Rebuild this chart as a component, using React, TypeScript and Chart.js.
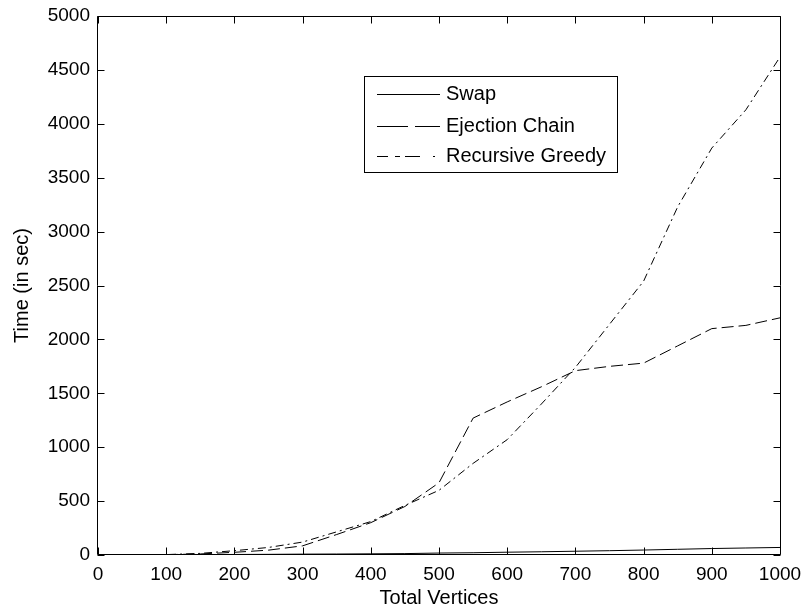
import { useEffect, useRef } from "react";
import { Chart, registerables } from "chart.js";

Chart.register(...registerables);

// ---- data ----
const vertices = [50, 100, 150, 200, 250, 300, 350, 400, 450, 500, 550, 600, 650, 700, 750, 800, 850, 900, 950, 1000];
const swapTimes = [1, 2, 3, 5, 6, 8, 9, 11, 13, 18, 21, 26, 30, 35, 40, 46, 53, 60, 65, 70];
const ejectionTimes = [1, 3, 10, 25, 45, 85, 190, 300, 450, 670, 1270, 1420, 1560, 1710, 1750, 1780, 1940, 2100, 2130, 2200];
const greedyTimes = [1, 4, 15, 40, 70, 120, 215, 310, 460, 600, 850, 1070, 1400, 1740, 2140, 2540, 3230, 3775, 4130, 4620];
const seriesNames = ["Swap", "Ejection Chain", "Recursive Greedy"];
const xTickValues = [0, 100, 200, 300, 400, 500, 600, 700, 800, 900, 1000];
const yTickValues = [0, 500, 1000, 1500, 2000, 2500, 3000, 3500, 4000, 4500, 5000];
const xTitle = "Total Vertices";
const yTitle = "Time (in sec)";

const FONT = "'Liberation Sans', Arial, Helvetica, sans-serif";
const INK = "#000000";

const plotDashes = [[], [12, 5], [8, 4, 2, 4]];
const legendDashes = [[], [31, 7], [11, 7, 5, 5, 15, 13, 2, 30]];

const framePlugin = {
  id: "matlabFrame",
  afterDatasetsDraw(chart: any) {
    const { ctx, chartArea, scales } = chart;
    const { left, right, top, bottom } = chartArea;
    const L = Math.round(left) - 0.5;
    const R = Math.round(right) + 0.5;
    const T = Math.round(top) + 0.5;
    const B = Math.round(bottom) - 0.5;
    const tl = 7;
    ctx.save();
    ctx.strokeStyle = INK;
    ctx.lineWidth = 1;
    ctx.setLineDash([]);
    ctx.beginPath();
    ctx.rect(L, T, R - L, B - T);
    for (const t of scales.x.ticks) {
      const px = Math.round(scales.x.getPixelForValue(t.value)) + 0.5;
      ctx.moveTo(px, B);
      ctx.lineTo(px, B - tl);
      ctx.moveTo(px, T);
      ctx.lineTo(px, T + tl);
    }
    for (const t of scales.y.ticks) {
      const py = Math.round(scales.y.getPixelForValue(t.value)) + 0.5;
      ctx.moveTo(L, py);
      ctx.lineTo(L + tl, py);
      ctx.moveTo(R, py);
      ctx.lineTo(R - tl, py);
    }
    ctx.stroke();
    ctx.restore();
  },
  afterDraw(chart: any) {
    const { ctx } = chart;
    const bx = 364.5, by = 76.5, bw = 253, bh = 96;
    ctx.save();
    ctx.fillStyle = "#ffffff";
    ctx.fillRect(bx, by, bw, bh);
    ctx.strokeStyle = INK;
    ctx.lineWidth = 1;
    ctx.setLineDash([]);
    ctx.strokeRect(bx, by, bw, bh);
    const rows = [94.5, 126.5, 156.5];
    chart.data.datasets.forEach((ds: any, i: number) => {
      const y = rows[i];
      ctx.beginPath();
      ctx.setLineDash(legendDashes[i]);
      ctx.strokeStyle = ds.borderColor;
      ctx.moveTo(377, y);
      ctx.lineTo(440, y);
      ctx.stroke();
      ctx.setLineDash([]);
      ctx.fillStyle = INK;
      ctx.font = `20px ${FONT}`;
      ctx.textBaseline = "middle";
      ctx.textAlign = "left";
      ctx.fillText(ds.label, 446, y);
    });
    ctx.restore();
  },
};

const noPad = (s: any) => {
  s.paddingLeft = 0;
  s.paddingRight = 0;
  s.paddingTop = 0;
  s.paddingBottom = 0;
};

export default function App() {
  const canvasRef = useRef<HTMLCanvasElement | null>(null);

  useEffect(() => {
    const canvas = canvasRef.current;
    if (!canvas) return;
    const seriesValues = [swapTimes, ejectionTimes, greedyTimes];
    const chart = new Chart(canvas, {
      type: "line",
      data: {
        datasets: seriesValues.map((vals, i) => ({
          label: seriesNames[i],
          data: vertices.map((v, k) => ({ x: v, y: vals[k] })),
          borderColor: INK,
          backgroundColor: INK,
          borderWidth: 1,
          borderDash: plotDashes[i],
          pointRadius: 0,
          tension: 0,
          fill: false,
        })),
      },
      options: {
        animation: false,
        responsive: false,
        devicePixelRatio: 1,
        layout: { padding: { left: 0, top: 16, right: 25, bottom: 0 } },
        plugins: {
          legend: { display: false },
          tooltip: { enabled: false },
        },
        scales: {
          x: {
            type: "linear",
            min: 0,
            max: 1000,
            afterBuildTicks: (s: any) => {
              s.ticks = xTickValues.map((v) => ({ value: v }));
            },
            afterFit: (s: any) => {
              s.height = 58;
              noPad(s);
            },
            grid: { display: false, drawTicks: false },
            border: { display: false },
            ticks: {
              color: INK,
              font: { family: FONT, size: 19 },
              padding: 8,
              maxRotation: 0,
              autoSkip: false,
              callback: (v: any) => String(v),
            },
            title: {
              display: true,
              text: xTitle,
              color: INK,
              font: { family: FONT, size: 20 },
              padding: { top: 0, bottom: 3 },
            },
          },
          y: {
            type: "linear",
            min: 0,
            max: 5000,
            afterBuildTicks: (s: any) => {
              s.ticks = yTickValues.map((v) => ({ value: v }));
            },
            afterFit: (s: any) => {
              s.width = 98;
              noPad(s);
            },
            grid: { display: false, drawTicks: false },
            border: { display: false },
            ticks: {
              color: INK,
              font: { family: FONT, size: 19 },
              padding: 8,
              autoSkip: false,
              callback: (v: any) => String(v),
            },
            title: {
              display: true,
              text: yTitle,
              color: INK,
              font: { family: FONT, size: 20 },
              padding: { top: 10, bottom: 0 },
            },
          },
        },
      },
      plugins: [framePlugin],
    });
    return () => chart.destroy();
  }, []);

  return (
    <div style={{ position: "absolute", left: 0, top: 0, width: 805, height: 613, background: "#ffffff" }}>
      <canvas ref={canvasRef} width={805} height={613} style={{ display: "block" }} />
    </div>
  );
}
